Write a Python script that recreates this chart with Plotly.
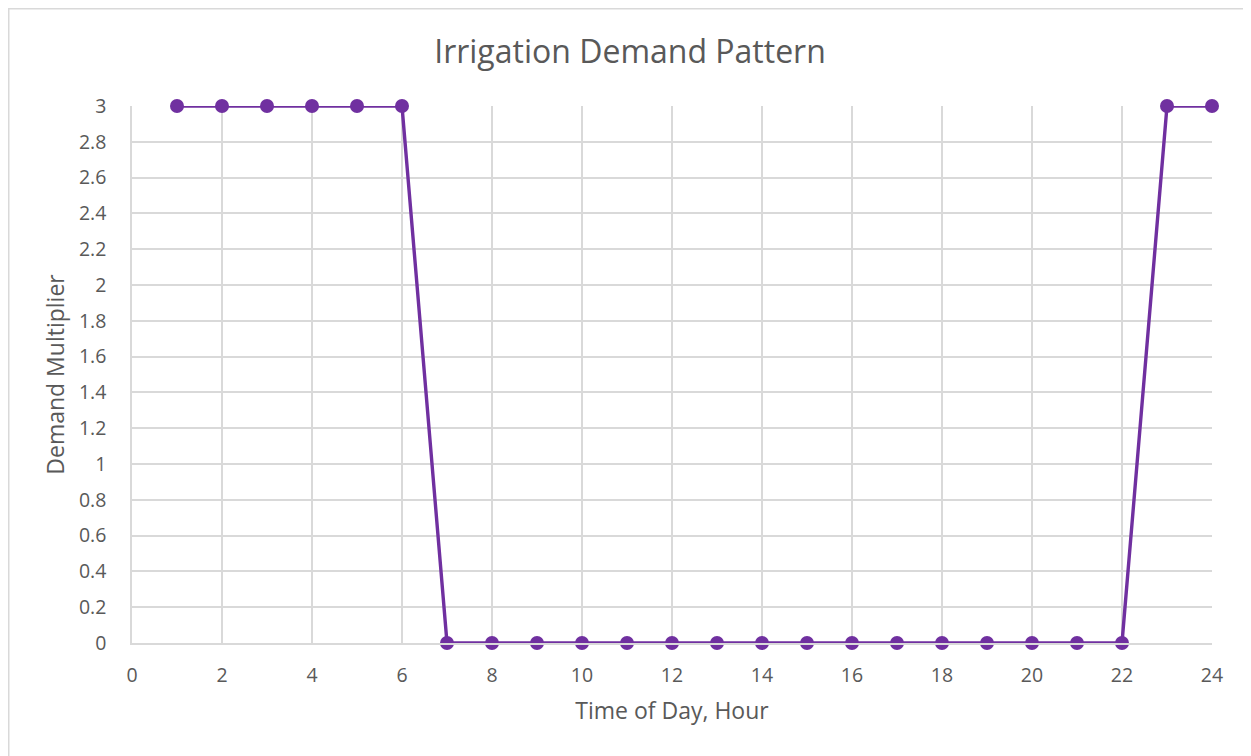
import plotly.graph_objects as go

hours = list(range(1, 25))
multiplier = [3, 3, 3, 3, 3, 3, 0, 0, 0, 0, 0, 0, 0, 0, 0, 0, 0, 0, 0, 0, 0, 0, 3, 3]

x_ticks = list(range(0, 25, 2))
y_ticks = [round(i * 0.2, 1) for i in range(16)]
y_tick_labels = ["0" if v == 0 else ("%g" % v) for v in y_ticks]

PURPLE = "#7030A0"
GRID = "#d9d9d9"
TEXT = "#595959"
FONT = "Open Sans"

W, H = 1251, 756
OFF = 8  # page offset of the rendered figure
L, R, T, B = 132 - OFF, 1212 - OFF, 106 - OFF, 643 - OFF
pw, ph = R - L, B - T

fig = go.Figure()
fig.add_trace(go.Scatter(
    x=hours, y=multiplier, mode="lines+markers",
    line=dict(color=PURPLE, width=3.4),
    marker=dict(color=PURPLE, size=14),
    cliponaxis=False,
    showlegend=False,
))

def px_x(p):
    return (p - L) / pw

def px_y(p):
    return (B - p) / ph

fig.add_shape(type="rect", xref="paper", yref="paper",
              x0=px_x(0.75), x1=px_x(1300), y0=px_y(800), y1=px_y(0.75),
              line=dict(color="#d9d9d9", width=1.5), layer="below")

fig.update_layout(
    width=W, height=H,
    margin=dict(l=L, r=W - R, t=T, b=H - B),
    paper_bgcolor="white", plot_bgcolor="white",
    font=dict(family=FONT, color=TEXT, size=19),
    title=dict(text="Irrigation Demand Pattern", x=(630 - OFF) / W, xanchor="center",
               xref="container", y=1 - (52 - OFF) / H, yanchor="middle",
               font=dict(size=32, color=TEXT, family=FONT)),
    xaxis=dict(range=[0, 24], tickvals=x_ticks, ticktext=[str(v) for v in x_ticks],
               showgrid=True, gridcolor=GRID, gridwidth=1.5,
               showline=True, linecolor=GRID, linewidth=1.5,
               zeroline=False, ticks="", ticklabelstandoff=14,
               tickfont=dict(size=19.5, color=TEXT),
               title=dict(text="Time of Day, Hour", font=dict(size=23, color=TEXT), standoff=16)),
    yaxis=dict(range=[0, 3], tickvals=y_ticks, ticktext=y_tick_labels,
               showgrid=True, gridcolor=GRID, gridwidth=1.5,
               showline=True, linecolor=GRID, linewidth=1.5,
               zeroline=False, ticks="", ticklabelstandoff=20,
               tickfont=dict(size=19.5, color=TEXT),
               title=dict(text="Demand Multiplier", font=dict(size=23, color=TEXT), standoff=8)),
)

fig.write_html("out.html")
